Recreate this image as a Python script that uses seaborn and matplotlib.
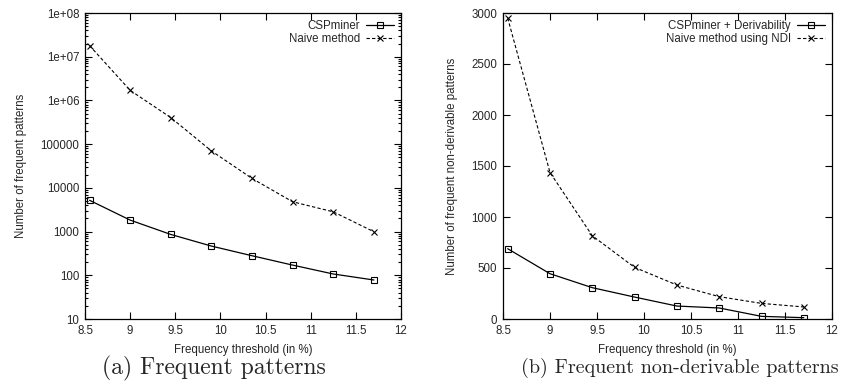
import matplotlib
matplotlib.use("Agg")
import matplotlib.pyplot as plt
import seaborn as sns
import numpy as np
from matplotlib.ticker import FixedLocator, LogLocator, NullFormatter, FixedFormatter, NullLocator

# ---- data ----
threshold = [8.55, 9.0, 9.45, 9.9, 10.35, 10.8, 11.25, 11.7]
cspminer = [5200, 1830, 860, 466, 280, 171, 107, 78]
naive = [1.8e7, 1.7e6, 4.05e5, 7.0e4, 1.64e4, 4.8e3, 2.83e3, 990]
csp_deriv = [689, 444, 307, 215, 127, 108, 26, 13]
naive_ndi = [2950, 1436, 816, 506, 333, 219, 153, 118]

xticks = [8.5, 9, 9.5, 10, 10.5, 11, 11.5, 12]
xtick_labels = ["8.5", "9", "9.5", "10", "10.5", "11", "11.5", "12"]
log_yticks = [10, 100, 1000, 10000, 100000, 1e6, 1e7, 1e8]
log_ytick_labels = ["10", "100", "1000", "10000", "100000", "1e+06", "1e+07", "1e+08"]
lin_yticks = [0, 500, 1000, 1500, 2000, 2500, 3000]
lin_ytick_labels = ["0", "500", "1000", "1500", "2000", "2500", "3000"]

sns.set_style("ticks")
plt.rcParams["font.family"] = ["Liberation Sans", "DejaVu Sans"]

fig = plt.figure(figsize=(8.42, 3.89), dpi=100)
ax1 = fig.add_axes([85/842, 1-319/389, 316/842, 306/389])
ax2 = fig.add_axes([503/842, 1-319/389, 329/842, 306/389])

fs = 8.3

def style(ax):
    for s in ax.spines.values():
        s.set_linewidth(0.9)
        s.set_color("black")
    ax.tick_params(which="both", direction="in", top=True, right=True,
                   labelsize=fs, width=0.8, color="black", pad=4)
    ax.tick_params(which="major", length=5)
    ax.tick_params(which="minor", length=2.5)

sq = dict(color="black", marker="s", markerfacecolor="none", markeredgecolor="black",
          markersize=4.5, markeredgewidth=0.8, linewidth=0.9)
xs = dict(color="black", marker="x", markeredgecolor="black", markersize=4.5,
          markeredgewidth=0.8, linewidth=0.8, dashes=(3, 2))

# left
sns.lineplot(x=threshold, y=cspminer, ax=ax1, label="CSPminer", **sq)
sns.lineplot(x=threshold, y=naive, ax=ax1, label="Naive method", **xs)
ax1.set_yscale("log")
ax1.set_xlim(8.5, 12)
ax1.set_ylim(10, 1e8)
ax1.xaxis.set_major_locator(FixedLocator(xticks))
ax1.set_xticklabels(xtick_labels)
ax1.yaxis.set_major_locator(FixedLocator(log_yticks))
ax1.yaxis.set_major_formatter(FixedFormatter(log_ytick_labels))
ax1.yaxis.set_minor_locator(LogLocator(base=10, subs=np.arange(2, 10), numticks=20))
ax1.yaxis.set_minor_formatter(NullFormatter())
ax1.xaxis.set_minor_locator(NullLocator())
ax1.set_xlabel("Frequency threshold (in %)", fontsize=fs, labelpad=5)
ax1.set_ylabel("Number of frequent patterns", fontsize=fs, labelpad=10)
style(ax1)
ax1.legend(loc="upper right", frameon=False, markerfirst=False, fontsize=fs,
           handlelength=2.4, borderaxespad=0.25, labelspacing=0.05, handletextpad=0.5)

# right
sns.lineplot(x=threshold, y=csp_deriv, ax=ax2, label="CSPminer + Derivability", **sq)
sns.lineplot(x=threshold, y=naive_ndi, ax=ax2, label="Naive method using NDI", **xs)
ax2.set_xlim(8.5, 12)
ax2.set_ylim(0, 3000)
ax2.xaxis.set_major_locator(FixedLocator(xticks))
ax2.set_xticklabels(xtick_labels)
ax2.yaxis.set_major_locator(FixedLocator(lin_yticks))
ax2.set_yticklabels(lin_ytick_labels)
ax2.xaxis.set_minor_locator(NullLocator())
ax2.yaxis.set_minor_locator(NullLocator())
ax2.set_xlabel("Frequency threshold (in %)", fontsize=fs, labelpad=5)
ax2.set_ylabel("Number of frequent non-derivable patterns", fontsize=fs, labelpad=10)
style(ax2)
ax2.legend(loc="upper right", frameon=False, markerfirst=False, fontsize=fs,
           handlelength=2.4, borderaxespad=0.25, labelspacing=0.05, handletextpad=0.5)

fig.text(214/842, 1-368/389, "(a) Frequent patterns", ha="center", va="center",
         fontsize=17, family=["cmr10", "DejaVu Serif"])
fig.text(680/842, 1-368/389, "(b) Frequent non-derivable patterns", ha="center", va="center",
         fontsize=14.5, family=["cmr10", "DejaVu Serif"])

fig.savefig("out.png", dpi=100)
